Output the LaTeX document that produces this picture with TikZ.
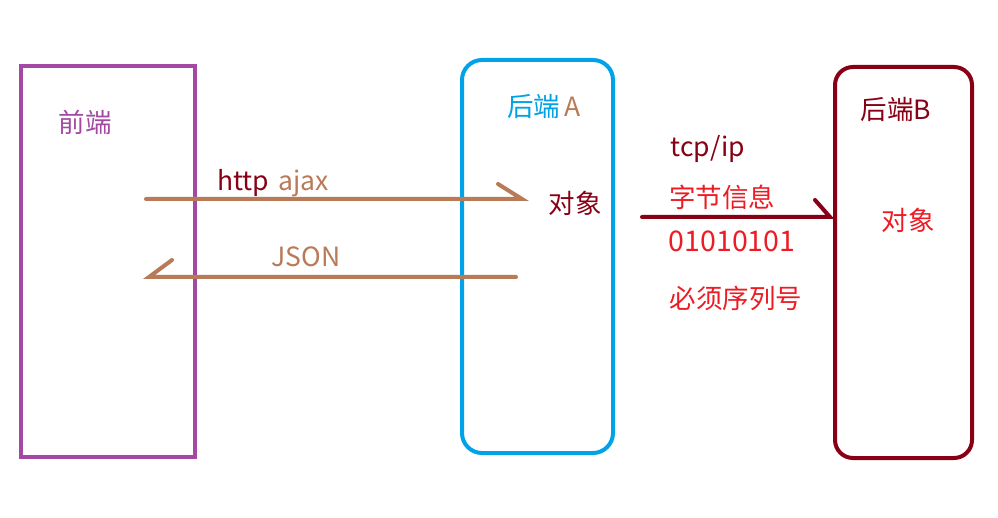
\documentclass[tikz,border=0pt]{standalone}
\usepackage{fontspec}
\setmainfont{Noto Sans CJK SC}
\definecolor{purp}{HTML}{A349A4}
\definecolor{skyb}{HTML}{00A2E8}
\definecolor{dkred}{HTML}{880015}
\definecolor{brwn}{HTML}{B97A57}
\definecolor{rred}{HTML}{ED1C24}
\begin{document}
\begin{tikzpicture}[x=1pt,y=-1pt,
  lbl/.style={inner sep=0pt,font=\fontsize{26.5}{28}\selectfont},
  boxline/.style={line width=4pt},
  arr/.style={line width=4pt,line cap=round}]
\path[use as bounding box,fill=white] (0,0) rectangle (998,518);
% boxes
\draw[boxline,purp] (21,66) rectangle (195,457);
\draw[boxline,skyb,rounded corners=20pt] (462,60) rectangle (613,453);
\draw[boxline,dkred,rounded corners=18pt] (835,67) rectangle (972,458);
% labels
\node[lbl,text=purp] (fe) at (85,122) {前端};
\node[lbl] (ba) at (544,106) {\textcolor{skyb}{后端}\,\textcolor{brwn}{A}};
\node[lbl,text=dkred] (bb) at (896,109) {后端B};
\node[lbl] (http) at (273,183) {\textcolor{dkred}{http}\hspace{0.35em}\textcolor{brwn}{ajax}};
\node[lbl,text=brwn] (json) at (306,257) {JSON};
\node[lbl,text=dkred] (objA) at (575,203) {对象};
\node[lbl,text=dkred] (tcp) at (708,149) {tcp/ip};
\node[lbl,text=rred] (bytes) at (722,197) {字节信息};
\node[lbl,text=rred,font=\fontsize{28.5}{30}\selectfont] (bits) at (732,241) {01010101};
\node[lbl,text=rred] (seq) at (736,298) {必须序列号};
\node[lbl,text=rred] (objB) at (908,220) {对象};
% arrow coordinates
\coordinate (r1s) at (146,199);
\coordinate (r1e) at (522,199);
\coordinate (r1b) at (498,184);
\coordinate (r2s) at (516,277);
\coordinate (r2e) at (149,277);
\coordinate (r2b) at (172,260);
\coordinate (r3s) at (642,217);
\coordinate (r3e) at (830,217);
\coordinate (r3b) at (815,200);
% arrows
\draw[arr,brwn] (r1s) -- (r1e) -- (r1b);
\draw[arr,brwn] (r2s) -- (r2e) -- (r2b);
\draw[arr,dkred] (r3s) -- (r3e) -- (r3b);
\end{tikzpicture}
\end{document}
